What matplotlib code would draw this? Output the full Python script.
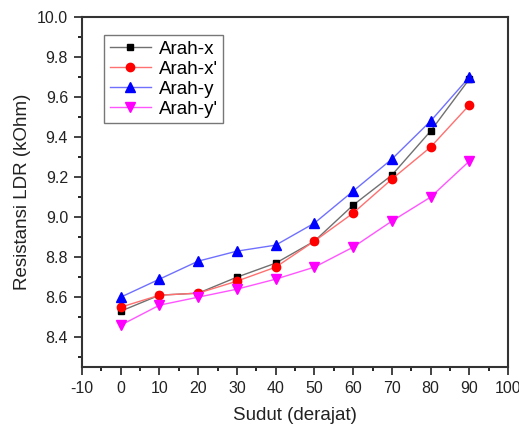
import matplotlib
matplotlib.use("Agg")
from matplotlib import pyplot as plt
from matplotlib.ticker import MultipleLocator

plt.rcParams['font.family'] = ['Liberation Sans', 'DejaVu Sans']
plt.rcParams['axes.unicode_minus'] = False

sudut = [0, 10, 20, 30, 40, 50, 60, 70, 80, 90]
arah_x = [8.53, 8.61, 8.62, 8.70, 8.77, 8.88, 9.06, 9.21, 9.43, 9.69]
arah_x2 = [8.55, 8.61, 8.62, 8.68, 8.75, 8.88, 9.02, 9.19, 9.35, 9.56]
arah_y = [8.60, 8.69, 8.78, 8.83, 8.86, 8.97, 9.13, 9.29, 9.48, 9.70]
arah_y2 = [8.46, 8.56, 8.60, 8.64, 8.69, 8.75, 8.85, 8.98, 9.10, 9.28]

fig = plt.figure(figsize=(5.19, 4.25), dpi=100)
ax = fig.add_axes([0.158, 0.136, 0.821, 0.824])

ax.plot(sudut, arah_x, color='#707070', lw=1, marker='s', mfc='black', mec='black', ms=5, label='Arah-x')
ax.plot(sudut, arah_x2, color='#ff7070', lw=1, marker='o', mfc='red', mec='red', ms=6, label="Arah-x'")
ax.plot(sudut, arah_y, color='#7070ff', lw=1, marker='^', mfc='blue', mec='blue', ms=6.5, label='Arah-y')
ax.plot(sudut, arah_y2, color='#ff55ff', lw=1, marker='v', mfc='magenta', mec='magenta', ms=6.5, label="Arah-y'")

ax.set_xlim(-10, 100)
ax.set_ylim(8.25, 10.0)
ax.xaxis.set_major_locator(MultipleLocator(10))
ax.xaxis.set_minor_locator(MultipleLocator(5))
ax.yaxis.set_major_locator(MultipleLocator(0.2))
ax.yaxis.set_minor_locator(MultipleLocator(0.1))
ax.tick_params(which='major', direction='out', length=6, width=1.2, labelsize=11.5, colors='#222222', pad=4)
ax.tick_params(which='minor', direction='out', length=3, width=1.2)
for s in ax.spines.values():
    s.set_linewidth(1.5)
    s.set_color('#333333')

ax.set_xlabel('Sudut (derajat)', fontsize=13.5, color='#222222', labelpad=8)
ax.set_ylabel('Resistansi LDR (kOhm)', fontsize=13.5, color='#222222', labelpad=4)

leg = ax.legend(loc='upper left', bbox_to_anchor=(0.03, 0.975), fontsize=13.5, frameon=True,
                fancybox=False, edgecolor='#555555', handlelength=2.2, borderpad=0.3,
                labelspacing=0.15, handletextpad=0.4)
leg.get_frame().set_linewidth(1.0)

plt.savefig('out.png', dpi=100)
